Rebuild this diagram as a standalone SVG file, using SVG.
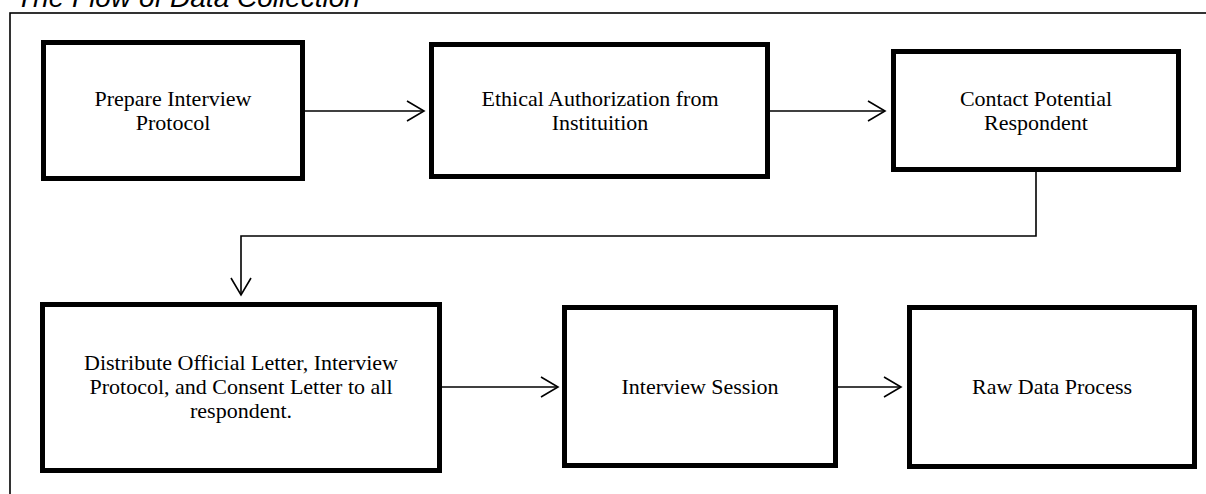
<svg xmlns="http://www.w3.org/2000/svg" width="1206" height="494" viewBox="0 0 1206 494">
<style>
.box{fill:#fff;stroke:#000;stroke-width:5}
.lbl{font-family:"Liberation Serif","Times New Roman",serif;font-size:22px;fill:#000;text-anchor:middle}
.con{fill:none;stroke:#000;stroke-width:1.6}
.title{font-family:"Liberation Sans",Arial,sans-serif;font-style:italic;font-size:28px;fill:#000}
</style>
<rect width="1206" height="494" fill="#fff"/>
<text class="title" x="16" y="7">The Flow of Data Collection</text>
<rect x="10" y="13" width="1300" height="600" fill="none" stroke="#000" stroke-width="1.6"/>
<g id="connectors">
<line class="con" x1="305" y1="111" x2="424" y2="111"/>
<polyline class="con" points="407,101 424,111 407,121"/>
<line class="con" x1="770" y1="111" x2="885" y2="111"/>
<polyline class="con" points="868,101 885,111 868,121"/>
<polyline class="con" points="1036,172 1036,236 241,236 241,295"/>
<polyline class="con" points="231,278 241,295 251,278"/>
<line class="con" x1="442" y1="387" x2="558" y2="387"/>
<polyline class="con" points="541,377 558,387 541,397"/>
<line class="con" x1="838" y1="387" x2="901" y2="387"/>
<polyline class="con" points="884,377 901,387 884,397"/>
</g>
<g id="n1">
<rect class="box" x="43.5" y="42.5" width="259" height="136"/>
<text class="lbl" x="173" y="106">Prepare Interview</text>
<text class="lbl" x="173" y="130">Protocol</text>
</g>
<g id="n2">
<rect class="box" x="431.5" y="44.5" width="336" height="132"/>
<text class="lbl" x="600" y="106">Ethical Authorization from</text>
<text class="lbl" x="600" y="130">Instituition</text>
</g>
<g id="n3">
<rect class="box" x="893.5" y="51.5" width="285" height="118"/>
<text class="lbl" x="1036" y="106">Contact Potential</text>
<text class="lbl" x="1036" y="130">Respondent</text>
</g>
<g id="n4">
<rect class="box" x="42.5" y="304.5" width="397" height="166"/>
<text class="lbl" x="241" y="370">Distribute Official Letter, Interview</text>
<text class="lbl" x="241" y="394">Protocol, and Consent Letter to all</text>
<text class="lbl" x="241" y="418">respondent.</text>
</g>
<g id="n5">
<rect class="box" x="564.5" y="307.5" width="271" height="158"/>
<text class="lbl" x="700" y="394">Interview Session</text>
</g>
<g id="n6">
<rect class="box" x="909.5" y="307.5" width="285" height="159"/>
<text class="lbl" x="1052" y="394">Raw Data Process</text>
</g>
</svg>
